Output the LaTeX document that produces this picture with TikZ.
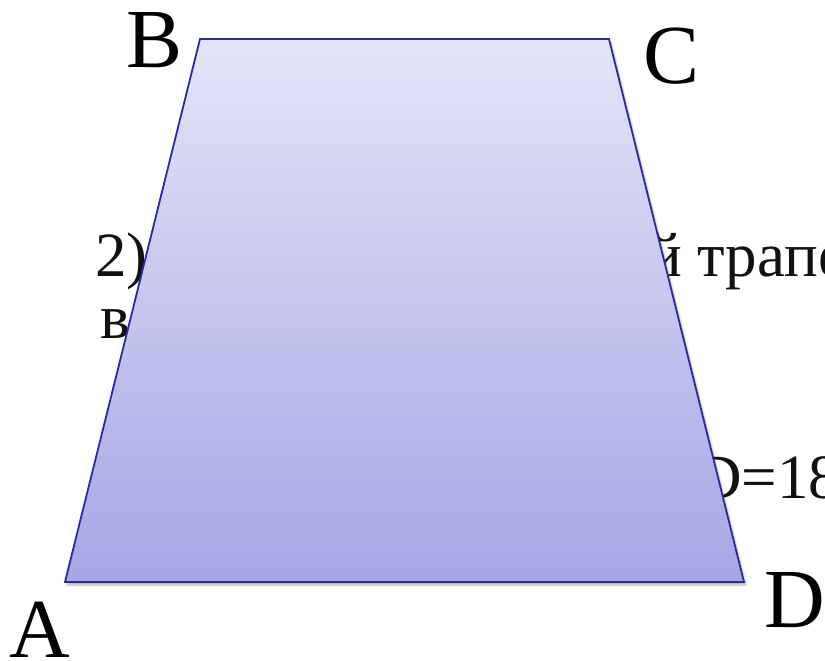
\documentclass[tikz,border=0pt]{standalone}
\usepackage{fontspec}
\setmainfont{Liberation Serif}
\usetikzlibrary{shadows.blur}
\definecolor{toplav}{HTML}{E4E4F8}
\definecolor{botlav}{HTML}{A6A6E6}
\definecolor{edgeblue}{HTML}{2B2B9E}
\definecolor{ink}{HTML}{111111}
\begin{document}
\begin{tikzpicture}[x=1pt,y=1pt,
  bgtext/.style={inner sep=0pt,anchor=base west,text=ink,font=\fontsize{63}{63}\selectfont},
  vlabel/.style={inner sep=0pt,anchor=base,text=black,font=\fontsize{84}{84}\selectfont}]
\useasboundingbox (0,0) rectangle (825,-661);
\clip (0,0) rectangle (825,-661);
% background text, partly hidden behind the trapezoid
\node[bgtext] (t1) at (95,-276) {2)};
\node[bgtext] (t2) at (648,-276) {й трапе};
\node[bgtext] (t3) at (100,-338) {в};
\node[bgtext] (t4) at (696,-498) {D=18};
% vertices
\coordinate (A) at (65,-582);
\coordinate (B) at (200,-39);
\coordinate (C) at (609,-39);
\coordinate (D) at (744,-582);
% trapezoid
\shade[top color=toplav,bottom color=botlav,
  blur shadow={shadow xshift=2pt,shadow yshift=-3pt,shadow blur steps=6,shadow opacity=30}]
  (A) -- (B) -- (C) -- (D) -- cycle;
\draw[edgeblue,line width=1.8pt,line join=miter] (A) -- (B) -- (C) -- (D) -- cycle;
% vertex labels
\node[vlabel] (lB) at (155,-67) {B};
\node[vlabel] (lC) at (672,-84) {C};
\node[vlabel] (lA) at (40,-657) {A};
\node[vlabel] (lD) at (795,-627) {D};
\end{tikzpicture}
\end{document}
